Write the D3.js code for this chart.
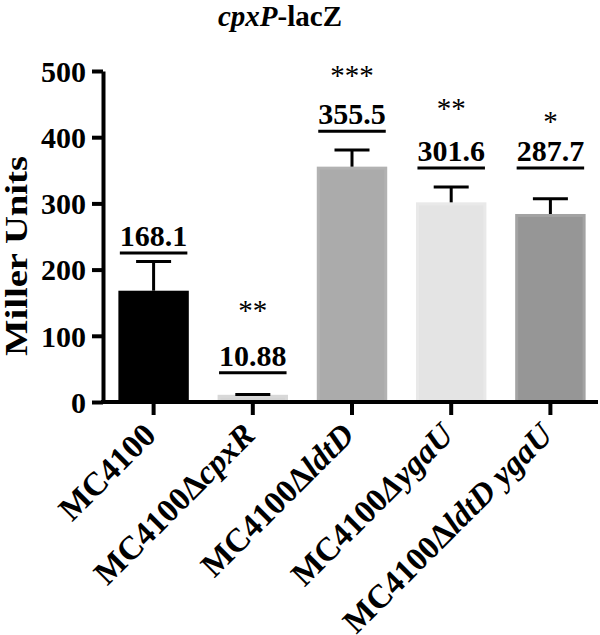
<!DOCTYPE html>
<html><head><meta charset="utf-8">
<script src="https://cdn.jsdelivr.net/npm/d3@7"></script>
<style>
body{margin:0;background:#fff;}
svg text{font-family:"Liberation Serif","Times New Roman",serif;}
</style></head>
<body><svg id="c" width="600" height="635"></svg>
<script>
// ---- data ----
const categories = ["MC4100","MC4100ΔcpxR","MC4100ΔldtD","MC4100ΔygaU","MC4100ΔldtD ygaU"];
const labelParts = [
  [["MC4100",false]],
  [["MC4100Δ",false],["cpxR",true]],
  [["MC4100Δ",false],["ldtD",true]],
  [["MC4100",false],["ΔygaU",true]],
  [["MC4100Δ",false],["ldtD ygaU",true]]
];
const values = [168.1, 10.88, 355.5, 301.6, 284];
const valueLabels = ["168.1","10.88","355.5","301.6","287.7"];
const errors = [44, 0.5, 25, 23, 23];
const stars = ["", "**", "***", "**", "*"];
const labelLevel = [225, 44, 409, 353.5, 353.5];
const starLevel = [0, 143.5, 498, 448.6, 429];
const yTicks = [0,100,200,300,400,500];
const colors = ["#000000","#d4d4d4","#ababab","#e4e4e4","#969696"];
const borders = ["#000000","#d8d8d8","#b2b2b2","#e9e9e9","#a3a3a3"];

const svg = d3.select("#c");
const y = d3.scaleLinear().domain([0,500]).range([402,71]);
const x = d3.scaleBand().domain(categories).range([104,600]).paddingInner(0.29).paddingOuter(0.145);

// title
const t = svg.append("text").attr("x",280).attr("y",26).attr("text-anchor","middle")
  .attr("font-size",29).attr("font-weight","bold");
t.append("tspan").attr("font-style","italic").text("cpxP");
t.append("tspan").text("-lacZ");

// bars
svg.selectAll("rect.bar").data(categories).enter().append("rect")
  .attr("x",(d)=>x(d)+1.5).attr("width",x.bandwidth()-3)
  .attr("y",(d,i)=>y(values[i])+1.5).attr("height",(d,i)=>y(0)-y(values[i])-1.5)
  .attr("fill",(d,i)=>colors[i]).attr("stroke",(d,i)=>borders[i]).attr("stroke-width",3);

// error bars
const capW = 35;
categories.forEach((d,i)=>{
  const cx = x(d)+x.bandwidth()/2;
  const top = y(values[i]+errors[i]);
  if (i!==1) svg.append("line").attr("x1",cx).attr("x2",cx).attr("y1",y(values[i])).attr("y2",top)
    .attr("stroke","#000").attr("stroke-width",3);
  svg.append("line").attr("x1",cx-capW/2).attr("x2",cx+capW/2).attr("y1",top).attr("y2",top)
    .attr("stroke","#000").attr("stroke-width",3);
  // value label
  const ly = y(labelLevel[i]);
  const txt = svg.append("text").attr("x",cx).attr("y",ly-7).attr("text-anchor","middle")
    .attr("font-size",30).attr("font-weight","bold").text(valueLabels[i]);
  const w = txt.node().getComputedTextLength();
  svg.append("line").attr("x1",cx-w/2).attr("x2",cx+w/2).attr("y1",ly).attr("y2",ly)
    .attr("stroke","#000").attr("stroke-width",3);
  if (stars[i]) svg.append("text").attr("x",cx).attr("y",y(starLevel[i])+13).attr("text-anchor","middle")
    .attr("font-size",29).text(stars[i]);
});

// y axis
const ya = svg.append("g").attr("transform","translate(103,0)")
  .call(d3.axisLeft(y).tickValues(yTicks).tickSize(11).tickSizeOuter(0).tickPadding(6));
ya.select(".domain").attr("stroke-width",4).attr("stroke","#000");
ya.selectAll(".tick line").attr("stroke-width",4).attr("stroke","#000");
ya.selectAll(".tick text").attr("font-size",30).attr("font-weight","bold").attr("fill","#000")
  .attr("font-family","Liberation Serif").attr("dy","0.34em");

// x axis
const xa = svg.append("g").attr("transform","translate(0,402)")
  .call(d3.axisBottom(x).tickSize(13).tickSizeOuter(0).tickFormat(""));
xa.select(".domain").attr("stroke-width",4).attr("stroke","#000").attr("d","M101,0H598");
xa.selectAll(".tick line").attr("stroke-width",4).attr("stroke","#000");

// x labels
categories.forEach((d,i)=>{
  const cx = x(d)+x.bandwidth()/2;
  const tx = svg.append("text").attr("text-anchor","end").attr("font-size",33).attr("font-weight","bold")
    .attr("transform",`translate(${cx+4},${437}) rotate(-45)`);
  labelParts[i].forEach(p=>{
    tx.append("tspan").attr("font-style",p[1]?"italic":"normal").text(p[0]);
  });
});

// y label
svg.append("text").attr("transform","translate(27,256) rotate(-90)").attr("text-anchor","middle")
  .attr("font-size",31).attr("font-weight","bold")
  .attr("textLength",200).attr("lengthAdjust","spacingAndGlyphs").text("Miller Units");
</script></body></html>
